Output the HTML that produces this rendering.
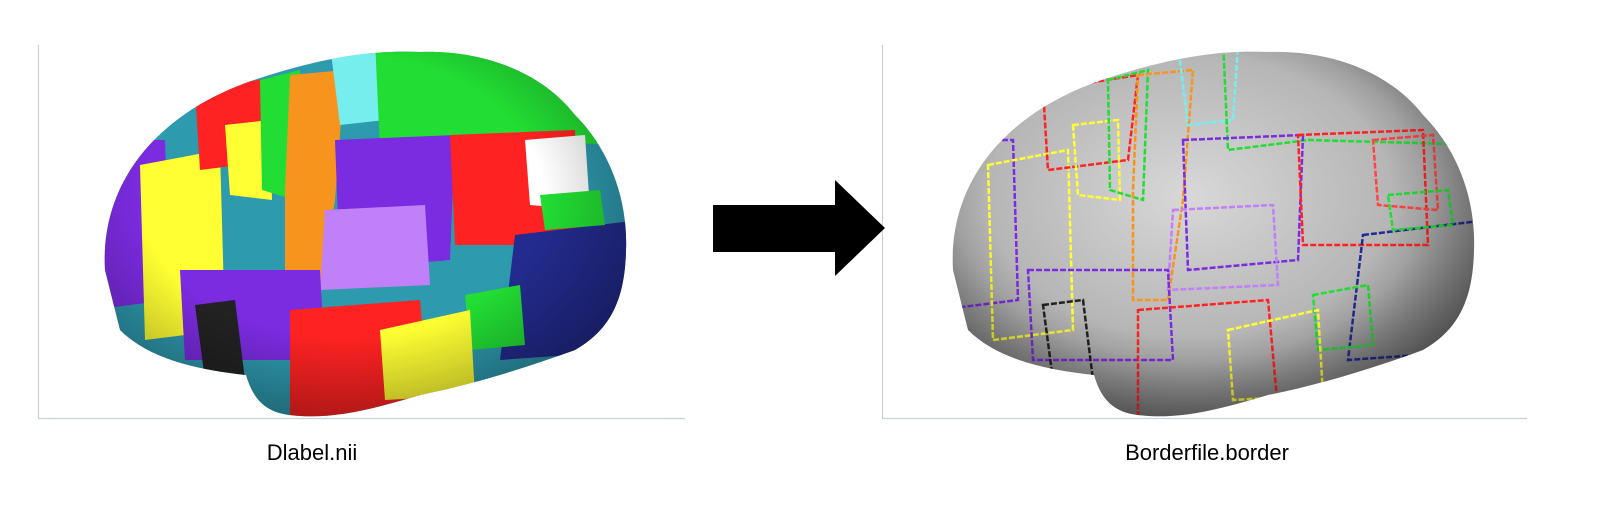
<!DOCTYPE html>
<html><head><meta charset="utf-8"><style>
body{margin:0;background:#fff;width:1613px;height:500px;overflow:hidden}
</style></head><body>
<svg width="1613" height="500">
<defs>
<clipPath id="bL"><path id="bp" d="M105,270 C100,180 160,110 260,78 C330,55 380,50 420,52 C480,50 540,70 575,115 C610,150 628,200 626,250 C625,300 610,330 575,350 C520,370 470,385 420,395 C370,410 330,420 290,415 C262,412 252,395 246,375 C200,370 150,360 120,330 Z"/></clipPath>
<clipPath id="bR"><path transform="translate(848,0)" d="M105,270 C100,180 160,110 260,78 C330,55 380,50 420,52 C480,50 540,70 575,115 C610,150 628,200 626,250 C625,300 610,330 575,350 C520,370 470,385 420,395 C370,410 330,420 290,415 C262,412 252,395 246,375 C200,370 150,360 120,330 Z"/></clipPath>
<radialGradient id="gg" cx="0.45" cy="0.4" r="0.6"><stop offset="0" stop-color="#d8d8d8"/><stop offset="0.7" stop-color="#b0b0b0"/><stop offset="1" stop-color="#707070"/></radialGradient>
<radialGradient id="sh" cx="0.45" cy="0.4" r="0.6"><stop offset="0.6" stop-color="#000" stop-opacity="0"/><stop offset="1" stop-color="#000" stop-opacity="0.35"/></radialGradient>
</defs>
<g stroke="#c8d0d8" stroke-width="1.2">
<line x1="38.5" y1="45" x2="38.5" y2="418"/><line x1="38" y1="418.5" x2="685" y2="418.5"/></g>
<g stroke="#c8d0d8" stroke-width="1.2">
<line x1="882.5" y1="45" x2="882.5" y2="418"/><line x1="882" y1="418.5" x2="1527" y2="418.5"/></g>
<g id="left" clip-path="url(#bL)"><rect x="90" y="40" width="560" height="390" fill="#2e9aae"/></g>
<g id="right" clip-path="url(#bR)"><rect x="938" y="40" width="560" height="390" fill="url(#gg)"/></g>
<path d="M713,205 H835 V180 L885,228 L835,276 V252 H713 Z" fill="#000"/>
<text x="312" y="460" font-family="Liberation Sans, sans-serif" font-size="22" text-anchor="middle">Dlabel.nii</text>
<text x="1207" y="460" font-family="Liberation Sans, sans-serif" font-size="22" text-anchor="middle">Borderfile.border</text>
</svg>
<script>
const blobs=[
["#7b2be0","M90,140 L165,140 L170,300 L90,310 Z"],
["#ffff33","M140,165 L220,150 L225,330 L145,340 Z"],
["#ff2222","M195,90 L290,75 L280,160 L200,170 Z"],
["#ffff33","M225,125 L270,120 L272,200 L230,195 Z"],
["#22dd33","M260,80 L300,70 L295,200 L262,190 Z"],
["#f7941d","M290,75 L345,70 L335,200 L320,300 L285,300 L285,190 Z"],
["#77eeee","M330,45 L390,45 L385,120 L340,125 Z"],
["#22dd33","M375,40 L640,40 L640,145 L460,140 L380,150 Z"],
["#7b2be0","M335,140 L455,135 L450,260 L340,270 Z"],
["#c080f8","M325,210 L425,205 L430,285 L320,290 Z"],
["#ff2222","M450,135 L575,130 L580,245 L455,245 Z"],
["#ffffff","M525,140 L585,135 L590,210 L530,205 Z"],
["#232b8f","M515,235 L640,220 L640,350 L500,360 Z"],
["#22dd33","M465,295 L520,285 L525,345 L470,350 Z"],
["#7b2be0","M180,270 L320,270 L325,360 L185,360 Z"],
["#ff2222","M290,310 L420,300 L430,410 L290,420 Z"],
["#ffff33","M380,330 L470,310 L475,395 L385,400 Z"],
["#222222","M195,305 L235,300 L245,380 L205,380 Z"],
["#22dd33","M540,195 L600,190 L605,225 L545,230 Z"]
];
const NS="http://www.w3.org/2000/svg";
const L=document.getElementById('left'),R=document.getElementById('right');
blobs.forEach((b,i)=>{
 const p=document.createElementNS(NS,'path');p.setAttribute('d',b[1]);p.setAttribute('fill',b[0]);
 
 
 L.appendChild(p);
 const q=document.createElementNS(NS,'path');q.setAttribute('d',b[1]);q.setAttribute('fill','none');
 q.setAttribute('stroke',b[0]==='#ffffff'?'#ff4444':b[0]);q.setAttribute('stroke-width','2.5');
 q.setAttribute('stroke-dasharray','6 2');q.setAttribute('transform','translate(848,0)');
 
 
 R.appendChild(q);
});
[[L,0],[R,848]].forEach(([g,dx])=>{const s=document.createElementNS(NS,'rect');s.setAttribute('x',90+dx);s.setAttribute('y',40);s.setAttribute('width',560);s.setAttribute('height',390);s.setAttribute('fill','url(#sh)');


g.appendChild(s);});
</script>
</body></html>
